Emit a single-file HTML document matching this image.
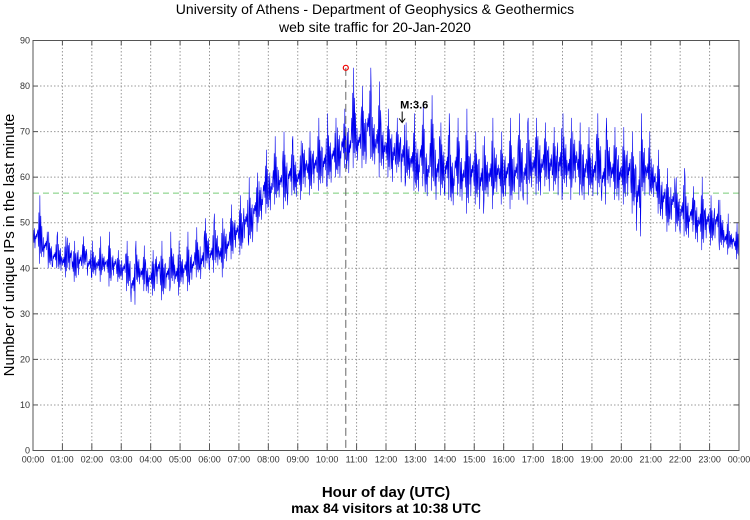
<!DOCTYPE html>
<html><head><meta charset="utf-8"><style>
body{margin:0;background:#fff;}
svg text{font-family:"Liberation Sans",sans-serif;}
</style></head><body>
<svg id="chart" width="750" height="515" xmlns="http://www.w3.org/2000/svg">
<text x="375" y="14" font-size="14" text-anchor="middle">University of Athens - Department of Geophysics &amp; Geothermics</text>
<text x="375" y="32" font-size="14" text-anchor="middle">web site traffic for 20-Jan-2020</text>
<g id="grid"></g>
<g id="series"></g>
<g id="axes"></g>
<text transform="translate(14,245) rotate(-90)" font-size="15" text-anchor="middle">Number of unique IPs in the last minute</text>
<text x="386" y="497" font-size="15" font-weight="bold" text-anchor="middle">Hour of day (UTC)</text>
<text x="386" y="513" font-size="14" font-weight="bold" text-anchor="middle">max 84 visitors at 10:38 UTC</text>
</svg>
<script>
const yTicks=[0,10,20,30,40,50,60,70,80,90];
const xTickLabels=["00:00","01:00","02:00","03:00","04:00","05:00","06:00","07:00","08:00","09:00","10:00","11:00","12:00","13:00","14:00","15:00","16:00","17:00","18:00","19:00","20:00","21:00","22:00","23:00","00:00"];
const lo=[44,41,42,40,40,39,38,39,37,38,40,38,38,37,39,36,38,37,37,35,32,36,35,34,34,36,33,35,36,34,36,35,37,38,37,40,39,40,38,41,42,44,43,46,45,48,50,52,52,54,55,53,56,55,55,57,56,58,57,58,58,60,59,62,60,62,63,62,64,62,60,61,60,58,61,58,59,57,56,58,55,57,54,56,55,53,56,54,52,55,54,52,55,53,56,54,55,53,56,55,54,57,56,55,58,56,57,55,57,55,58,56,54,56,55,56,54,57,55,54,54,55,52,47,55,56,55,52,50,48,50,48,47,46,48,45,44,46,45,46,44,43,44,42];
const hi=[52,56,50,48,47,48,47,50,46,48,47,46,46,47,45,48,46,44,45,46,44,46,45,44,44,47,46,45,48,46,46,48,47,49,50,51,50,52,51,52,54,55,56,58,60,61,63,66,67,69,66,70,68,69,68,72,70,71,73,72,74,73,76,75,78,84,76,80,84,78,81,76,75,77,73,76,72,74,73,76,72,78,74,72,74,70,73,71,75,72,70,72,69,73,71,70,71,73,70,74,72,73,73,75,72,74,71,76,74,73,75,72,74,71,72,74,70,73,71,72,71,73,70,72,74,70,68,66,65,62,63,60,62,60,58,59,60,58,56,58,55,52,50,50];
const meanVal=[56.5];
const maxVal=[84]; const maxHour=[10+38/60];
const mLabelHour=[12.55]; const mLabelVal=[72];
const L=33,R=739,T=40.5,B=450.5;
const X=h=>L+(R-L)*h/24, Y=v=>B-(B-T)*v/90;
const NS="http://www.w3.org/2000/svg";
function mk(tag,attrs,parent,text){const e=document.createElementNS(NS,tag);for(const k in attrs)e.setAttribute(k,attrs[k]);if(text!==undefined)e.textContent=text;document.getElementById(parent).appendChild(e);return e;}
yTicks.forEach(v=>{if(v>0&&v<90){const g=mk('line',{x1:L,x2:R,y1:Y(v),y2:Y(v),stroke:'#999','stroke-dasharray':'1.5,2','stroke-width':1},'grid');

}});
xTickLabels.forEach((t,i)=>{if(i>0&&i<24){const g=mk('line',{x1:X(i),x2:X(i),y1:T,y2:B,stroke:'#999','stroke-dasharray':'1.5,2','stroke-width':1},'grid');

}});
const ml=mk('line',{x1:L,x2:R,y1:Y(meanVal[0]),y2:Y(meanVal[0]),stroke:'#7c7','stroke-dasharray':'6,4','stroke-width':1},'grid');


// noise shape pattern (fractions of each bin's range), cycled for texture
const pat=[0.1,0.75,0.3,0.55,0.0,0.45,0.2,1.0,0.35,0.6,0.15,0.5,0.05,0.7,0.25,0.4];
const n=lo.length;let d='';const per=10;
for(let i=0;i<n;i++){const h0=i*24/n,w=24/n,a=lo[i],b=hi[i];
for(let j=0;j<per;j++){const f=pat[(i*per+j*3+i)%pat.length];
d+=(i==0&&j==0?'M':'L')+X(h0+j*w/per).toFixed(2)+','+Y(a+f*(b-a)).toFixed(1);}}
const s=mk('path',{d:d,fill:'none',stroke:'#0000ee','stroke-width':0.6},'series');


const vl=mk('line',{x1:X(maxHour[0]),x2:X(maxHour[0]),y1:Y(maxVal[0]),y2:B,stroke:'#666','stroke-dasharray':'8,4','stroke-width':1},'series');


const mc=mk('circle',{cx:X(maxHour[0]),cy:Y(maxVal[0]),r:2.5,fill:'none',stroke:'#e00','stroke-width':1.2},'series');


const mt=mk('text',{x:X(mLabelHour[0])-2,y:Y(mLabelVal[0])-14,'font-size':11,'font-weight':'bold'},'series','M:3.6');


const ma=mk('path',{d:`M${X(mLabelHour[0])},${Y(mLabelVal[0])-11}V${Y(mLabelVal[0])}M${X(mLabelHour[0])-3},${Y(mLabelVal[0])-4}L${X(mLabelHour[0])},${Y(mLabelVal[0])}L${X(mLabelHour[0])+3},${Y(mLabelVal[0])-4}`,stroke:'#000',fill:'none','stroke-width':1},'series');


const fr=mk('rect',{x:L,y:T,width:R-L,height:B-T,fill:'none',stroke:'#555','stroke-width':1},'axes');


yTicks.forEach(v=>{const t=mk('text',{x:L-3,y:Y(v)+3,'font-size':9,'text-anchor':'end',fill:'#333'},'axes',String(v));


mk('line',{x1:L,x2:L+5,y1:Y(v),y2:Y(v),stroke:'#555'},'axes');
mk('line',{x1:R,x2:R-5,y1:Y(v),y2:Y(v),stroke:'#555'},'axes');});
xTickLabels.forEach((lab,i)=>{const t=mk('text',{x:X(i),y:B+12,'font-size':9,'text-anchor':'middle',fill:'#333'},'axes',lab);


mk('line',{x1:X(i),x2:X(i),y1:B,y2:B-7,stroke:'#555'},'axes');
mk('line',{x1:X(i),x2:X(i),y1:T,y2:T+5,stroke:'#555'},'axes');});
</script>
</body></html>
